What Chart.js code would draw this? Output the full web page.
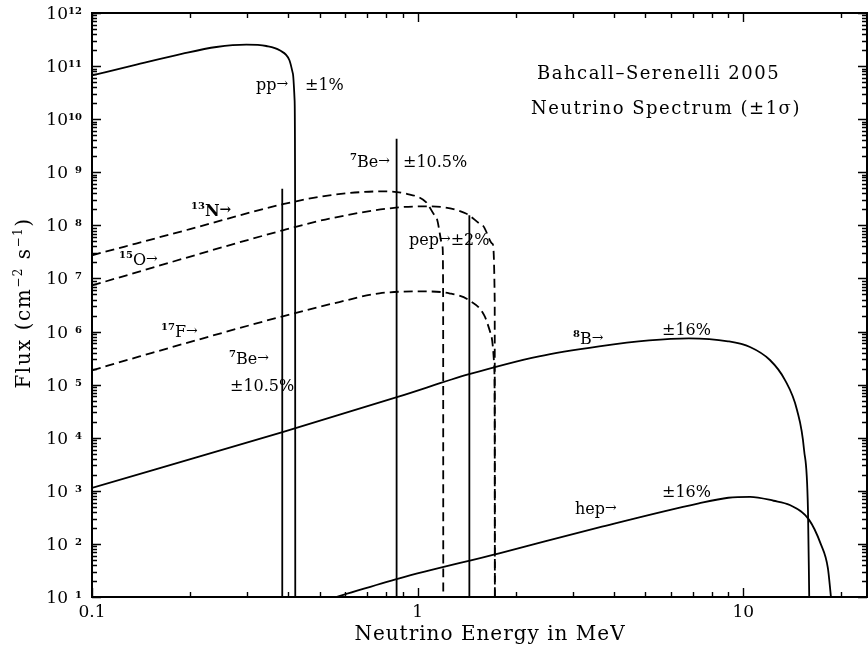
<!DOCTYPE html>
<html>
<head>
<meta charset="utf-8">
<script src="https://cdn.jsdelivr.net/npm/chart.js@4.4.0/dist/chart.umd.min.js"></script>
<style>
  html, body { margin: 0; padding: 0; background: #fff; }
  #wrap { width: 868px; height: 652px; }
</style>
</head>
<body>
<div id="wrap"><canvas id="spec" width="868" height="652"></canvas></div>
<script>
// solar neutrino spectra, energy in MeV, flux in cm^-2 s^-1 (per MeV for continua)
const ppEnergy = [0.1, 0.134, 0.19, 0.241, 0.298, 0.343, 0.377, 0.404, 0.414, 0.419, 0.4205, 0.421];
const ppFlux   = [6.7e10, 1.03e11, 1.72e11, 2.29e11, 2.54e11, 2.39e11, 1.98e11, 1.29e11, 7.2e10, 2.3e10, 3e8, 10];

const n13Energy = [0.1, 0.2, 0.3855, 0.536, 0.79, 0.921, 1.061, 1.139, 1.193, 1.198, 1.199];
const n13Flux   = [2.73e7, 8.5e7, 2.5e8, 3.68e8, 4.38e8, 3.96e8, 2.75e8, 1.44e8, 3.9e7, 3.9e6, 10];

const o15Energy = [0.1, 0.3855, 0.536, 0.8585, 1.086, 1.408, 1.582, 1.698, 1.725, 1.727];
const o15Flux   = [7.4e6, 8.07e7, 1.34e8, 2.16e8, 2.28e8, 1.67e8, 1.0e8, 4.5e7, 3.9e6, 10];

const f17Energy = [0.1, 0.14, 0.3855, 0.575, 0.763, 1.048, 1.251, 1.441, 1.602, 1.683, 1.719, 1.725, 1.727];
const f17Flux   = [1.86e5, 3.4e5, 1.94e6, 3.6e6, 5.25e6, 5.7e6, 5.25e6, 3.88e6, 2.02e6, 8.5e5, 2.31e5, 2.1e4, 10];

const b8Energy = [0.1, 0.3847, 0.879, 1.44, 2.36, 3.61, 5.14, 6.81, 8.98, 10.49, 12.08, 13.44, 14.63, 15.38, 15.81, 15.95];
const b8Flux   = [1.13e3, 1.28e4, 6.0e4, 1.57e5, 3.42e5, 5.27e5, 6.84e5, 7.46e5, 6.55e5, 5.12e5, 2.91e5, 1.22e5, 3.33e4, 5.88e3, 435, 10];

const hepEnergy = [0.562, 0.879, 1.781, 3.61, 7.31, 9.0, 10.5, 12.4, 13.9, 15.9, 17.3, 18.2, 18.6];
const hepFlux   = [10, 22.5, 66.5, 205, 582, 740, 770, 650, 540, 290, 100, 35, 10];

// lines: 7Be (two branches) and pep
const lineEnergy = [0.384, 0.862, 1.442];
const lineFlux   = [4.9e8, 4.3e9, 1.55e8];

const xMajor = [0.1, 1, 10];
const xMinor = [0.2, 0.3, 0.4, 0.5, 0.6, 0.7, 0.8, 0.9, 2, 3, 4, 5, 6, 7, 8, 9, 20];
const yExp = [1, 2, 3, 4, 5, 6, 7, 8, 9, 10, 11, 12];

const FONT = '"DejaVu Serif", serif';

function pts(xs, ys) {
  return xs.map((x, i) => ({ x: x, y: ys[i] }));
}

function curve(xs, ys, dashed, smooth) {
  return {
    data: pts(xs, ys),
    showLine: true,
    borderColor: '#000',
    borderWidth: 1.8,
    borderDash: dashed ? [9, 5] : [],
    pointRadius: 0,
    fill: false,
    cubicInterpolationMode: smooth ? 'monotone' : 'default',
    tension: 0
  };
}

const datasets = [
  curve(ppEnergy, ppFlux, false, true),
  curve(n13Energy, n13Flux, true, true),
  curve(o15Energy, o15Flux, true, true),
  curve(f17Energy, f17Flux, true, true),
  curve(b8Energy, b8Flux, false, true),
  curve(hepEnergy, hepFlux, false, true)
];
lineEnergy.forEach((e, i) => {
  datasets.push(curve([e, e], [10, lineFlux[i]], false, false));
});

// text with superscripts; each piece may have its own size, weight and rise
function drawRich(ctx, x, y, segs, align, spacing) {
  let w = 0;
  segs.forEach(s => {
    ctx.font = (s.bold ? 'bold ' : '') + (s.size || 16) + 'px ' + FONT;
    ctx.letterSpacing = (spacing || 0) + 'px';
    s.w = ctx.measureText(s.t).width;
    w += s.w;
  });
  let cx = align === 'right' ? x - w : align === 'center' ? x - w / 2 : x;
  segs.forEach(s => {
    ctx.font = (s.bold ? 'bold ' : '') + (s.size || 16) + 'px ' + FONT;
    ctx.letterSpacing = (spacing || 0) + 'px';
    ctx.fillText(s.t, cx, y - (s.rise || 0));
    cx += s.w;
  });
}

const T = (t, bold) => ({ t: t, size: 16, bold: bold });
const SUP = t => ({ t: t, size: 10, bold: true, rise: 7 });
const ARROW = { t: '→', size: 14, rise: 2 };

const notes = [
  { x: 256, y: 90, segs: [T('pp'), ARROW] },
  { x: 305, y: 90, segs: [T('±1%')] },
  { x: 350, y: 167, segs: [SUP('7'), T('Be'), ARROW] },
  { x: 403, y: 167, segs: [T('±10.5%')] },
  { x: 191, y: 216, segs: [SUP('13'), T('N', true), { t: '→', size: 14, rise: 2, bold: true }] },
  { x: 119, y: 265, segs: [SUP('15'), T('O'), ARROW] },
  { x: 409, y: 245, segs: [T('pep'), ARROW, T('±2%')] },
  { x: 161, y: 337, segs: [SUP('17'), T('F'), ARROW] },
  { x: 229, y: 364, segs: [SUP('7'), T('Be'), ARROW] },
  { x: 230, y: 391, segs: [T('±10.5%')] },
  { x: 573, y: 344, segs: [SUP('8'), T('B'), ARROW] },
  { x: 662, y: 335, segs: [T('±16%')] },
  { x: 575, y: 514, segs: [T('hep'), ARROW] },
  { x: 662, y: 497, segs: [T('±16%')] }
];

const framePlugin = {
  id: 'frame',
  afterDraw(chart) {
    const { ctx, chartArea: a, scales } = chart;
    const sx = scales.x, sy = scales.y;
    ctx.save();
    ctx.fillStyle = '#000';
    ctx.strokeStyle = '#000';

    // box
    ctx.lineWidth = 2;
    ctx.strokeRect(a.left, a.top, a.right - a.left, a.bottom - a.top);

    // ticks on all four sides
    ctx.lineWidth = 1.4;
    ctx.beginPath();
    const xt = (v, len) => {
      const p = Math.round(sx.getPixelForValue(v)) + 0.5;
      ctx.moveTo(p, a.bottom); ctx.lineTo(p, a.bottom - len);
      ctx.moveTo(p, a.top); ctx.lineTo(p, a.top + len);
    };
    const yt = (v, len) => {
      const p = Math.round(sy.getPixelForValue(v)) + 0.5;
      ctx.moveTo(a.left, p); ctx.lineTo(a.left + len, p);
      ctx.moveTo(a.right, p); ctx.lineTo(a.right - len, p);
    };
    xMajor.forEach(v => xt(v, 9));
    xMinor.forEach(v => xt(v, 5));
    yExp.forEach(n => {
      yt(Math.pow(10, n), 9);
      if (n < 12) for (let k = 2; k <= 9; k++) yt(k * Math.pow(10, n), 5);
    });
    ctx.stroke();

    // y tick labels: 10 with exponent
    ctx.textBaseline = 'alphabetic';
    yExp.forEach(n => {
      const p = sy.getPixelForValue(Math.pow(10, n));
      drawRich(ctx, 68, p + 6, [{ t: '10', size: 17 }], 'right');
      drawRich(ctx, 82, p + 1, [{ t: String(n), size: 10, bold: true }], 'right');
    });

    // x tick labels
    xMajor.forEach(v => {
      drawRich(ctx, sx.getPixelForValue(v), 617, [{ t: String(v), size: 17 }], 'center');
    });

    // axis titles
    drawRich(ctx, 490, 640, [{ t: 'Neutrino Energy in MeV', size: 20 }], 'center', 1);
    ctx.save();
    ctx.translate(30, 303);
    ctx.rotate(-Math.PI / 2);
    drawRich(ctx, 0, 0, [
      { t: 'Flux (cm', size: 20 },
      { t: '−2', size: 12, rise: 8 },
      { t: ' s', size: 20 },
      { t: '−1', size: 12, rise: 8 },
      { t: ')', size: 20 }
    ], 'center', 1.5);
    ctx.restore();

    // legend-style title
    drawRich(ctx, 537, 79, [{ t: 'Bahcall–Serenelli 2005', size: 18 }], 'left', 1.5);
    drawRich(ctx, 531, 114, [{ t: 'Neutrino Spectrum (±1σ)', size: 18 }], 'left', 1.5);

    // flux labels and uncertainties
    notes.forEach(n => drawRich(ctx, n.x, n.y, n.segs, 'left'));
    ctx.restore();
  }
};

new Chart(document.getElementById('spec').getContext('2d'), {
  type: 'scatter',
  data: { datasets: datasets },
  options: {
    responsive: false,
    animation: false,
    layout: { padding: { left: 92, right: 1, top: 13, bottom: 55 } },
    plugins: { legend: { display: false }, tooltip: { enabled: false } },
    scales: {
      x: { type: 'logarithmic', min: 0.1, max: 24, display: false },
      y: { type: 'logarithmic', min: 10, max: 1e12, display: false }
    }
  },
  plugins: [framePlugin]
});
</script>
</body>
</html>
